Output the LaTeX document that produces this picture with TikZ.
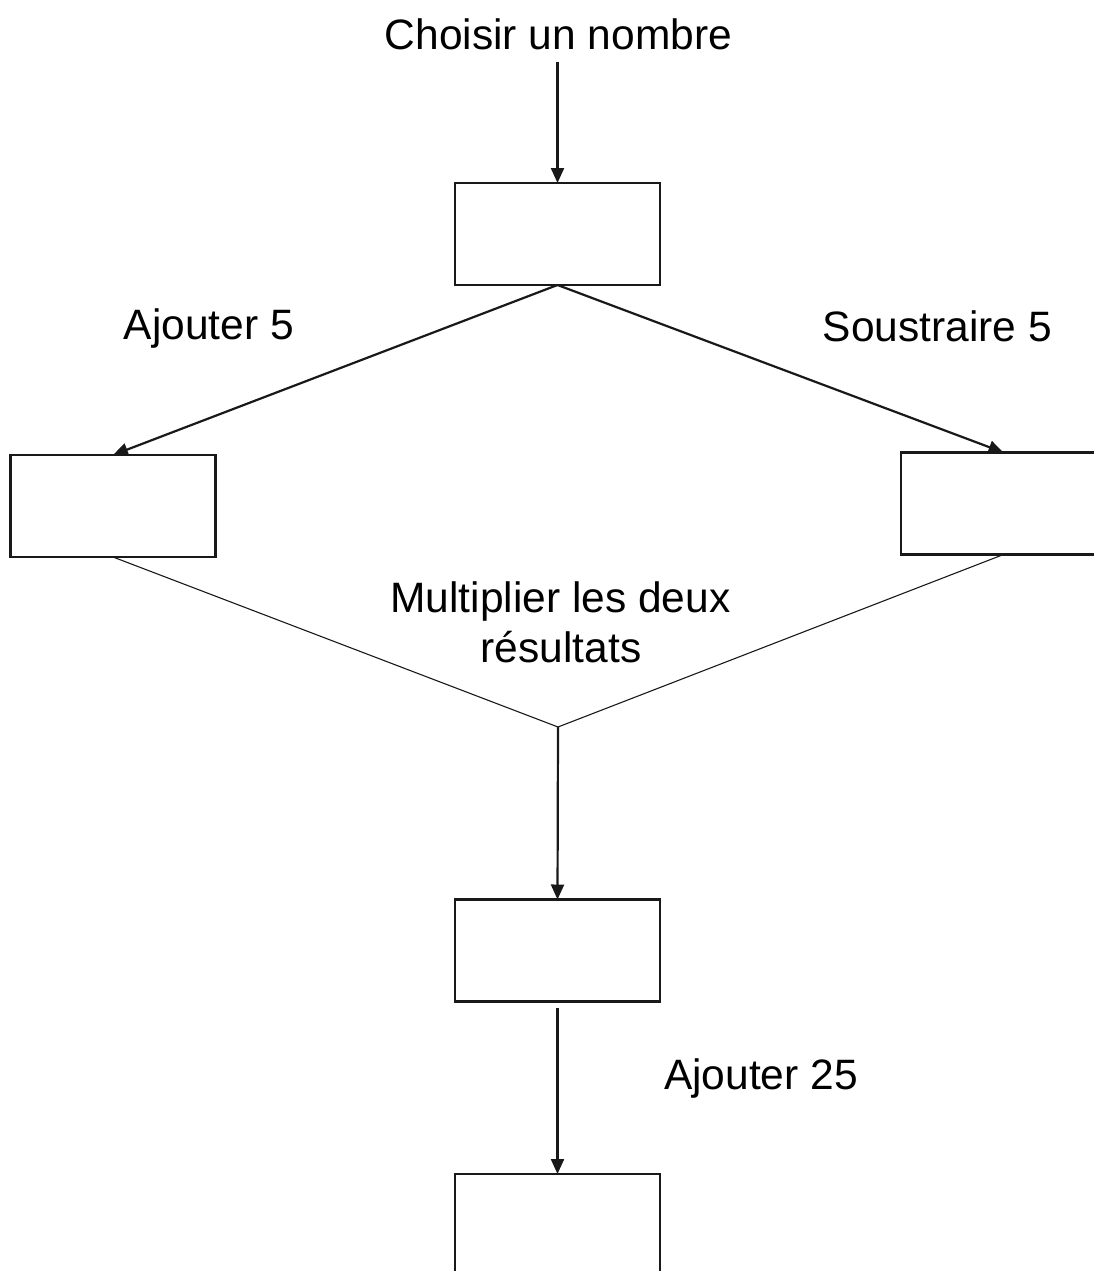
\documentclass[tikz,border=0pt]{standalone}
\usepackage{fontspec}
\setmainfont{Liberation Sans}
\usetikzlibrary{arrows.meta}
\begin{document}
\begin{tikzpicture}[x=1pt,y=-1pt,
  box/.style={draw=black!90, line width=2.4pt, minimum width=205pt, minimum height=102pt, inner sep=0pt, outer sep=0pt},
  lbl/.style={font=\fontsize{42.5}{50}\selectfont, inner sep=0pt, anchor=base},
  arr/.style={line width=2.2pt, draw=black!90, -{Triangle[length=15pt,width=13pt]}},
  thin/.style={line width=1.1pt, draw=black!90}]
\useasboundingbox (0,0) rectangle (1094,1271);
\clip (0,0) rectangle (1094,1271);
\node[box] (b1) at (557.5,234) {};
\node[box] (b2) at (113,506) {};
\node[box] (b3) at (1003.5,503.5) {};
\node[box] (b4) at (557.5,950.5) {};
\node[box] (b5) at (557.5,1225) {};
\coordinate (start) at (557.5,62);
\coordinate (m) at (558,727);
\node[lbl] (t1) at (558.5,50) {Choisir un nombre};
\node[lbl] (t2) at (209,339) {Ajouter 5};
\node[lbl] (t3) at (937.5,341) {Soustraire 5};
\node[lbl] (t4) at (560.5,612) {Multiplier les deux};
\node[lbl] (t5) at (561,662) {résultats};
\node[lbl] (t6) at (761,1089) {Ajouter 25};
\draw[arr] (start) -- (b1.north);
\draw[arr] (b1.south) -- (b2.north);
\draw[arr] (b1.south) -- (b3.north);
\draw[thin] (b2.south) -- (m);
\draw[thin] (b3.south) -- (m);
\draw[arr] (m) -- (b4.north);
\draw[arr] ([yshift=-6pt]b4.south) -- (b5.north);
\end{tikzpicture}
\end{document}
